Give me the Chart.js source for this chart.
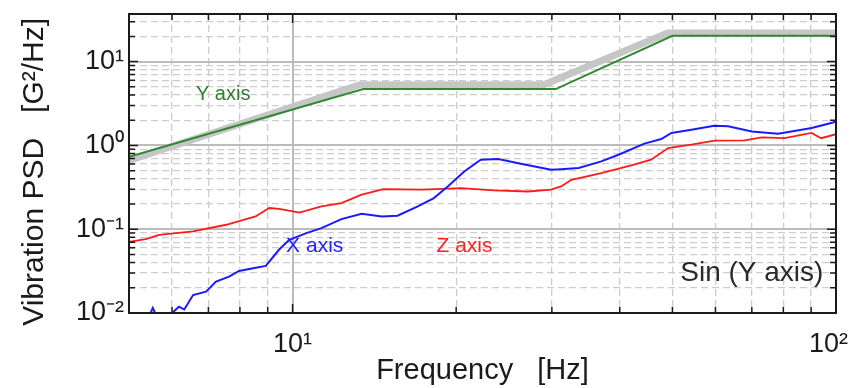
<!DOCTYPE html>
<html>
<head>
<meta charset="utf-8">
<script src="https://cdn.jsdelivr.net/npm/chart.js@4.4.1/dist/chart.umd.min.js"></script>
<style>
  html, body { margin: 0; padding: 0; background: #fff; }
  #wrap { width: 853px; height: 388px; }
</style>
</head>
<body>
<div id="wrap"><canvas id="psdChart" width="853" height="388"></canvas></div>
<script>
// PSD curves: frequency [Hz] and PSD [G^2/Hz]
const xAxisFreq = [5.4, 5.53, 5.68, 5.95, 6.05, 6.18, 6.32, 6.56, 6.93, 7.23, 7.64, 7.97, 8.46, 8.93, 9.44, 9.86,
  10.6, 11.3, 12.3, 13.4, 14.6, 15.6, 17.0, 18.2, 19.3, 20.7, 22.2, 23.9, 26.3, 29.9, 31.2, 33.6, 37.0, 39.8,
  44.4, 47.7, 49.8, 54.2, 59.7, 63.3, 70.0, 78.3, 90.2, 98.8, 100];
const xAxisPsd = [0.008, 0.0115, 0.008, 0.009, 0.0105, 0.0119, 0.011, 0.0164, 0.018, 0.0237, 0.0272, 0.0318, 0.0343, 0.0365, 0.0568, 0.0747,
  0.0898, 0.103, 0.132, 0.153, 0.142, 0.145, 0.187, 0.235, 0.324, 0.489, 0.675, 0.687, 0.604, 0.513, 0.52, 0.537, 0.644, 0.774,
  1.05, 1.19, 1.41, 1.54, 1.72, 1.69, 1.47, 1.38, 1.61, 1.88, 1.95];

const zAxisFreq = [5, 5.37, 5.68, 6.56, 7.55, 8.55, 9.06, 9.45, 10.3, 11.3, 12.3, 13.4, 14.7, 17.3, 20.4, 23.5,
  27.1, 29.9, 31.2, 32.6, 37.0, 42.5, 45.7, 49.1, 54.2, 59.7, 67.9, 73.0, 80.4, 90.2, 93.9, 100];
const zAxisPsd = [0.0707, 0.076, 0.0857, 0.094, 0.113, 0.142, 0.179, 0.175, 0.158, 0.187, 0.205, 0.258, 0.301, 0.296, 0.31, 0.29,
  0.282, 0.296, 0.324, 0.389, 0.468, 0.588, 0.675, 0.93, 1.02, 1.14, 1.15, 1.25, 1.22, 1.41, 1.22, 1.36];

// Y axis measured curve and the grey sine spec band behind it
const yAxisFreq = [5, 13.5, 30.5, 50, 100];
const yAxisPsd = [0.73, 4.7, 4.7, 20.3, 20.3];
const sinBandFreq = [5, 13.3, 29, 49, 102];
const sinBandPsd = [0.66, 5.3, 5.3, 22, 22];

// ticks / labels
const freqTicks = [5, 6, 7, 8, 9, 10, 20, 30, 40, 50, 60, 70, 80, 90, 100];
const psdTicks = [0.01, 0.02, 0.03, 0.04, 0.05, 0.06, 0.07, 0.08, 0.09,
  0.1, 0.2, 0.3, 0.4, 0.5, 0.6, 0.7, 0.8, 0.9,
  1, 2, 3, 4, 5, 6, 7, 8, 9, 10, 20, 30];
// trailing spaces keep the last label inside the canvas
const freqLabels = { 10: "10¹", 100: "10²  " };
const psdLabels = { 0.01: "10⁻²", 0.1: "10⁻¹", 1: "10⁰", 10: "10¹" };

const notes = [
  { text: "Y axis", x: 6.64, y: 4.0, color: "#2f7d2f", size: 20, align: "left" },
  { text: "X axis", x: 9.73, y: 0.063, color: "#1f1fff", size: 21, align: "left" },
  { text: "Z axis", x: 18.4, y: 0.063, color: "#ff2020", size: 21, align: "left" },
  { text: "Sin (Y axis)", x: 94.8, y: 0.030, color: "#2a2a2a", size: 28, align: "right" },
];

const FONT = "'Liberation Sans', Arial, Helvetica, sans-serif";

function isDecade(v) {
  const l = Math.log10(v);
  return Math.abs(l - Math.round(l)) < 1e-9;
}

function pts(freq, psd) {
  return freq.map((f, i) => ({ x: f, y: psd[i] }));
}

function gridOpts() {
  return {
    drawTicks: false,
    color: (c) => (c.tick && isDecade(c.tick.value) ? "#bcbcbc" : "#cdcdcd"),
    lineWidth: (c) => (c.tick && isDecade(c.tick.value) ? 2 : 1.3),
  };
}

function borderOpts() {
  return {
    display: false,
    dash: (c) => (c.tick && !isDecade(c.tick.value) ? [7, 4] : []),
  };
}

const frameAndNotes = {
  id: "frameAndNotes",
  afterDatasetsDraw(chart) {
    const { ctx, chartArea: a, scales } = chart;
    ctx.save();
    ctx.strokeStyle = "#1a1a1a";
    ctx.lineWidth = 1.5;
    ctx.beginPath();
    scales.x.ticks.forEach((t) => {
      const px = scales.x.getPixelForValue(t.value);
      const len = isDecade(t.value) ? 9 : 6;
      ctx.moveTo(px, a.bottom);
      ctx.lineTo(px, a.bottom - len);
      ctx.moveTo(px, a.top);
      ctx.lineTo(px, a.top + len);
    });
    scales.y.ticks.forEach((t) => {
      const py = scales.y.getPixelForValue(t.value);
      const len = isDecade(t.value) ? 9 : 6;
      ctx.moveTo(a.left, py);
      ctx.lineTo(a.left + len, py);
      ctx.moveTo(a.right, py);
      ctx.lineTo(a.right - len, py);
    });
    ctx.stroke();
    ctx.lineWidth = 2;
    ctx.strokeRect(a.left, a.top, a.right - a.left, a.bottom - a.top);

    notes.forEach((n) => {
      ctx.font = n.size + "px " + FONT;
      ctx.fillStyle = n.color;
      ctx.textAlign = n.align;
      ctx.textBaseline = "middle";
      ctx.fillText(n.text, scales.x.getPixelForValue(n.x), scales.y.getPixelForValue(n.y));
    });
    ctx.restore();
  },
};

const ctx = document.getElementById("psdChart").getContext("2d");

new Chart(ctx, {
  type: "line",
  data: {
    datasets: [
      {
        label: "Y axis",
        data: pts(yAxisFreq, yAxisPsd),
        borderColor: "#2f8a2f",
        borderWidth: 2,
        order: 1,
      },
      {
        label: "X axis",
        data: pts(xAxisFreq, xAxisPsd),
        borderColor: "#1a1aff",
        borderWidth: 2,
        order: 2,
      },
      {
        label: "Z axis",
        data: pts(zAxisFreq, zAxisPsd),
        borderColor: "#ff1a1a",
        borderWidth: 1.8,
        order: 3,
      },
      {
        label: "Sin (Y axis)",
        data: pts(sinBandFreq, sinBandPsd),
        borderColor: "#c6c6c6",
        borderWidth: 7,
        borderCapStyle: "round",
        order: 4,
      },
    ],
  },
  options: {
    responsive: false,
    animation: false,
    devicePixelRatio: 1,
    layout: { padding: { top: 14, right: 17, left: 0, bottom: 0 } },
    elements: { point: { radius: 0 }, line: { tension: 0, fill: false } },
    plugins: {
      legend: { display: false },
      tooltip: { enabled: false },
    },
    scales: {
      x: {
        type: "logarithmic",
        min: 5,
        max: 100,
        afterBuildTicks: (s) => { s.ticks = freqTicks.map((v) => ({ value: v })); },
        afterFit: (s) => {
          s.height = 75;
          s.paddingLeft = 0;
          s.paddingRight = 0;
        },
        grid: gridOpts(),
        border: borderOpts(),
        ticks: {
          autoSkip: false,
          maxRotation: 0,
          padding: 15,
          color: "#1a1a1a",
          font: { family: FONT, size: 27 },
          callback: (v) => freqLabels[v] || "",
        },
        title: {
          display: true,
          text: "Frequency   [Hz]",
          color: "#1a1a1a",
          font: { family: FONT, size: 29 },
          padding: { top: 0, bottom: 0 },
        },
      },
      y: {
        type: "logarithmic",
        min: 0.01,
        max: 37,
        afterBuildTicks: (s) => { s.ticks = psdTicks.map((v) => ({ value: v })); },
        afterFit: (s) => {
          s.width = 129;
          s.paddingTop = 0;
          s.paddingBottom = 0;
        },
        grid: gridOpts(),
        border: borderOpts(),
        ticks: {
          autoSkip: false,
          padding: 5,
          color: "#1a1a1a",
          font: { family: FONT, size: 27 },
          callback: (v) => psdLabels[v] || "",
        },
        title: {
          display: true,
          text: "Vibration PSD   [G²/Hz]  ",
          color: "#1a1a1a",
          font: { family: FONT, size: 30 },
          padding: { top: 17, bottom: 0 },
        },
      },
    },
  },
  plugins: [frameAndNotes],
});
</script>
</body>
</html>
